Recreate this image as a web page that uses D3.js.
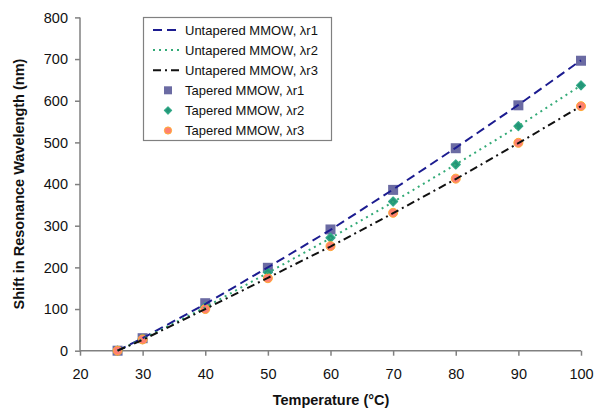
<!DOCTYPE html>
<html><head><meta charset="utf-8">
<script src="https://cdn.jsdelivr.net/npm/d3@7"></script>
<style>body{margin:0;background:#fff}svg{display:block;font-family:"Liberation Sans",Arial,sans-serif}</style>
</head><body><svg id="c" width="596" height="410"></svg>
<script>
const temps = [26, 30, 40, 50, 60, 70, 80, 90, 100];
const untaperedR1 = [0, 30, 112, 200, 290, 387, 487, 590, 697];
const untaperedR2 = [0, 28, 104, 187, 270, 357, 447, 539, 637];
const untaperedR3 = [0, 26, 100, 175, 250, 330, 412, 498, 587];
const taperedR1 = [0, 30, 114, 199, 291, 386, 486, 589, 696];
const taperedR2 = [0, 28, 105, 188, 271, 358, 447, 539, 637];
const taperedR3 = [0, 27, 100, 174, 251, 331, 413, 499, 587];
const xTicks = [20, 30, 40, 50, 60, 70, 80, 90, 100];
const yTicks = [0, 100, 200, 300, 400, 500, 600, 700, 800];
const legendLabels = ["Untapered MMOW, \u03bbr1","Untapered MMOW, \u03bbr2","Untapered MMOW, \u03bbr3","Tapered MMOW, \u03bbr1","Tapered MMOW, \u03bbr2","Tapered MMOW, \u03bbr3"];

const svg = d3.select("#c");
const x = d3.scaleLinear().domain([20,100]).range([80,581]);
const y = d3.scaleLinear().domain([0,800]).range([350.7,17.4]);
const axisColor = "#808080";

const gx = svg.append("g").attr("transform","translate(0,"+y(0)+")")
  .call(d3.axisBottom(x).tickValues(xTicks).tickSize(5).tickPadding(13));
const gy = svg.append("g").attr("transform","translate("+x(20)+",0)")
  .call(d3.axisLeft(y).tickValues(yTicks).tickSize(5).tickPadding(7));
[gx,gy].forEach(g=>{
  g.selectAll("path,line").attr("stroke",axisColor).attr("stroke-width",1.5);
  g.selectAll("text").attr("fill","#111").style("font-size","14.5px").style("font-family","Liberation Sans, Arial, sans-serif");
});
gx.select(".domain").attr("d","M"+x(20)+",0H"+x(100));
gy.select(".domain").attr("d","M0,"+y(800)+"V"+y(0));

svg.append("text").attr("x",331).attr("y",405).attr("text-anchor","middle")
  .attr("font-weight","bold").attr("font-size","14.5px").attr("fill","#111").text("Temperature (\u00b0C)");
svg.append("text").attr("transform","translate(24,184) rotate(-90)").attr("text-anchor","middle")
  .attr("font-weight","bold").attr("font-size","14.5px").attr("fill","#111").text("Shift in Resonance Wavelength (nm)");

const lineStyles = [
  {vals:untaperedR1, color:"#1c1c90", dash:"9,5", w:2},
  {vals:untaperedR2, color:"#33aa77", dash:"2,4", w:2},
  {vals:untaperedR3, color:"#111111", dash:"8,4,2,4", w:2}
];
const lineGen = d3.line().x((d,i)=>x(temps[i])).y(d=>y(d));

const markerStyles = [
  {vals:taperedR1, type:"square", color:"#6b6ba3", stroke:"#6b6ba3"},
  {vals:taperedR2, type:"diamond", color:"#239578", stroke:"#33aa88"},
  {vals:taperedR3, type:"circle", color:"#ff8070", stroke:"#ffaa33"}
];
function drawMarker(g, type, cx, cy, s){
  if(type==="square"){
    g.append("rect").attr("x",cx-s.sz/2).attr("y",cy-s.sz/2).attr("width",s.sz).attr("height",s.sz).attr("fill",s.color);
  } else if(type==="diamond"){
    const h = s.sz*0.45;
    g.append("path").attr("d","M0,"+(-h)+"L"+h+",0L0,"+h+"L"+(-h)+",0Z").attr("transform","translate("+cx+","+cy+")")
      .attr("fill",s.color).attr("stroke",s.stroke).attr("stroke-width",1.2).attr("stroke-linejoin","round");
  } else {
    g.append("circle").attr("cx",cx).attr("cy",cy).attr("r",s.sz*0.45).attr("fill",s.color).attr("stroke",s.stroke).attr("stroke-width",1);
  }
}
const mg = svg.append("g");
markerStyles.forEach(s=>{
  s.sz = 10;
  s.vals.forEach((v,i)=>drawMarker(mg, s.type, x(temps[i]), y(v), s));
});
lineStyles.forEach(s=>{
  svg.append("path").datum(s.vals).attr("d",lineGen).attr("fill","none")
    .attr("stroke",s.color).attr("stroke-width",s.w).attr("stroke-dasharray",s.dash);
});

const lg = svg.append("g");
lg.append("rect").attr("x",143.5).attr("y",17.5).attr("width",188).attr("height",123)
  .attr("fill","#fff").attr("stroke","#808080").attr("stroke-width",1.2);
legendLabels.forEach((lab,i)=>{
  const cy = 30 + i*20.1;
  if(i<3){
    const s = lineStyles[i];
    lg.append("line").attr("x1",153).attr("x2",181).attr("y1",cy).attr("y2",cy)
      .attr("stroke",s.color).attr("stroke-width",s.w).attr("stroke-dasharray",s.dash);
  } else {
    const s = markerStyles[i-3];
    s.sz = 8;
    drawMarker(lg, s.type, 168, cy, s);
  }
  lg.append("text").attr("x",185).attr("y",cy+4.5).attr("font-size","13px").attr("fill","#111").text(lab);
});
</script></body></html>
